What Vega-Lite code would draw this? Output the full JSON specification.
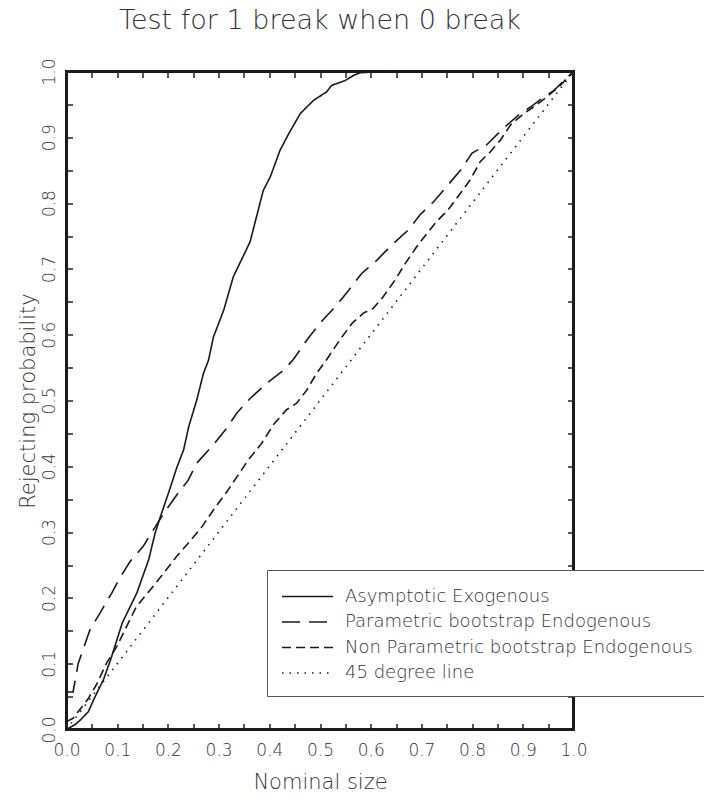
{
  "$schema": "https://vega.github.io/schema/vega-lite/v6.json",
  "autosize": {"type": "none"},
  "width": 507,
  "height": 658,
  "padding": {"left": 66.5, "top": 71.5, "right": 130.5, "bottom": 69.5},
  "background": "white",
  "title": {"text": "Test for 1 break when 0 break", "fontSize": 27, "font": "DejaVu Sans", "fontWeight": 200, "color": "#333", "anchor": "middle", "offset": 23},
  "config": {
    "view": {"stroke": "#1a1a1a", "strokeWidth": 3},
    "axis": {"domain": false, "grid": false, "tickSize": -6, "tickColor": "#222", "tickWidth": 1.5,
      "labelFont": "DejaVu Sans", "labelFontSize": 17, "labelFontWeight": 200, "labelColor": "#333",
      "titleFont": "DejaVu Sans", "titleFontSize": 21, "titleFontWeight": 200, "titleColor": "#333",
      "labelFlush": false, "labelOverlap": false}
  },
  "data": {"values": [
    {"s": "Asymptotic Exogenous", "x": 0, "y": 0},
    {"s": "Asymptotic Exogenous", "x": 0.018, "y": 0.008},
    {"s": "Asymptotic Exogenous", "x": 0.028, "y": 0.015},
    {"s": "Asymptotic Exogenous", "x": 0.043, "y": 0.027},
    {"s": "Asymptotic Exogenous", "x": 0.054, "y": 0.046},
    {"s": "Asymptotic Exogenous", "x": 0.073, "y": 0.076},
    {"s": "Asymptotic Exogenous", "x": 0.087, "y": 0.106},
    {"s": "Asymptotic Exogenous", "x": 0.110, "y": 0.162},
    {"s": "Asymptotic Exogenous", "x": 0.139, "y": 0.208},
    {"s": "Asymptotic Exogenous", "x": 0.162, "y": 0.258},
    {"s": "Asymptotic Exogenous", "x": 0.175, "y": 0.299},
    {"s": "Asymptotic Exogenous", "x": 0.185, "y": 0.323},
    {"s": "Asymptotic Exogenous", "x": 0.201, "y": 0.359},
    {"s": "Asymptotic Exogenous", "x": 0.218, "y": 0.399},
    {"s": "Asymptotic Exogenous", "x": 0.231, "y": 0.425},
    {"s": "Asymptotic Exogenous", "x": 0.241, "y": 0.460},
    {"s": "Asymptotic Exogenous", "x": 0.257, "y": 0.501},
    {"s": "Asymptotic Exogenous", "x": 0.270, "y": 0.541},
    {"s": "Asymptotic Exogenous", "x": 0.280, "y": 0.561},
    {"s": "Asymptotic Exogenous", "x": 0.290, "y": 0.597},
    {"s": "Asymptotic Exogenous", "x": 0.310, "y": 0.637},
    {"s": "Asymptotic Exogenous", "x": 0.329, "y": 0.688},
    {"s": "Asymptotic Exogenous", "x": 0.362, "y": 0.741},
    {"s": "Asymptotic Exogenous", "x": 0.388, "y": 0.819},
    {"s": "Asymptotic Exogenous", "x": 0.402, "y": 0.840},
    {"s": "Asymptotic Exogenous", "x": 0.421, "y": 0.880},
    {"s": "Asymptotic Exogenous", "x": 0.438, "y": 0.905},
    {"s": "Asymptotic Exogenous", "x": 0.461, "y": 0.936},
    {"s": "Asymptotic Exogenous", "x": 0.487, "y": 0.956},
    {"s": "Asymptotic Exogenous", "x": 0.513, "y": 0.969},
    {"s": "Asymptotic Exogenous", "x": 0.523, "y": 0.979},
    {"s": "Asymptotic Exogenous", "x": 0.549, "y": 0.986},
    {"s": "Asymptotic Exogenous", "x": 0.566, "y": 0.994},
    {"s": "Asymptotic Exogenous", "x": 0.579, "y": 0.998},
    {"s": "Asymptotic Exogenous", "x": 0.600, "y": 0.999},
    {"s": "Asymptotic Exogenous", "x": 0.650, "y": 1.0},
    {"s": "Asymptotic Exogenous", "x": 0.700, "y": 1.0},
    {"s": "Asymptotic Exogenous", "x": 0.800, "y": 1.0},
    {"s": "Asymptotic Exogenous", "x": 0.900, "y": 1.0},
    {"s": "Asymptotic Exogenous", "x": 1.0, "y": 1.0},
    {"s": "Parametric bootstrap Endogenous", "x": 0, "y": 0.057},
    {"s": "Parametric bootstrap Endogenous", "x": 0.013, "y": 0.057},
    {"s": "Parametric bootstrap Endogenous", "x": 0.023, "y": 0.100},
    {"s": "Parametric bootstrap Endogenous", "x": 0.046, "y": 0.151},
    {"s": "Parametric bootstrap Endogenous", "x": 0.066, "y": 0.177},
    {"s": "Parametric bootstrap Endogenous", "x": 0.089, "y": 0.207},
    {"s": "Parametric bootstrap Endogenous", "x": 0.105, "y": 0.230},
    {"s": "Parametric bootstrap Endogenous", "x": 0.125, "y": 0.255},
    {"s": "Parametric bootstrap Endogenous", "x": 0.151, "y": 0.278},
    {"s": "Parametric bootstrap Endogenous", "x": 0.171, "y": 0.303},
    {"s": "Parametric bootstrap Endogenous", "x": 0.194, "y": 0.331},
    {"s": "Parametric bootstrap Endogenous", "x": 0.217, "y": 0.356},
    {"s": "Parametric bootstrap Endogenous", "x": 0.240, "y": 0.379},
    {"s": "Parametric bootstrap Endogenous", "x": 0.257, "y": 0.405},
    {"s": "Parametric bootstrap Endogenous", "x": 0.289, "y": 0.432},
    {"s": "Parametric bootstrap Endogenous", "x": 0.316, "y": 0.458},
    {"s": "Parametric bootstrap Endogenous", "x": 0.336, "y": 0.481},
    {"s": "Parametric bootstrap Endogenous", "x": 0.362, "y": 0.503},
    {"s": "Parametric bootstrap Endogenous", "x": 0.395, "y": 0.526},
    {"s": "Parametric bootstrap Endogenous", "x": 0.428, "y": 0.546},
    {"s": "Parametric bootstrap Endogenous", "x": 0.447, "y": 0.562},
    {"s": "Parametric bootstrap Endogenous", "x": 0.477, "y": 0.595},
    {"s": "Parametric bootstrap Endogenous", "x": 0.503, "y": 0.620},
    {"s": "Parametric bootstrap Endogenous", "x": 0.533, "y": 0.645},
    {"s": "Parametric bootstrap Endogenous", "x": 0.559, "y": 0.670},
    {"s": "Parametric bootstrap Endogenous", "x": 0.582, "y": 0.693},
    {"s": "Parametric bootstrap Endogenous", "x": 0.612, "y": 0.713},
    {"s": "Parametric bootstrap Endogenous", "x": 0.641, "y": 0.736},
    {"s": "Parametric bootstrap Endogenous", "x": 0.674, "y": 0.759},
    {"s": "Parametric bootstrap Endogenous", "x": 0.697, "y": 0.782},
    {"s": "Parametric bootstrap Endogenous", "x": 0.724, "y": 0.802},
    {"s": "Parametric bootstrap Endogenous", "x": 0.753, "y": 0.828},
    {"s": "Parametric bootstrap Endogenous", "x": 0.777, "y": 0.850},
    {"s": "Parametric bootstrap Endogenous", "x": 0.800, "y": 0.876},
    {"s": "Parametric bootstrap Endogenous", "x": 0.828, "y": 0.888},
    {"s": "Parametric bootstrap Endogenous", "x": 0.862, "y": 0.914},
    {"s": "Parametric bootstrap Endogenous", "x": 0.892, "y": 0.934},
    {"s": "Parametric bootstrap Endogenous", "x": 0.915, "y": 0.946},
    {"s": "Parametric bootstrap Endogenous", "x": 0.941, "y": 0.961},
    {"s": "Parametric bootstrap Endogenous", "x": 0.961, "y": 0.971},
    {"s": "Parametric bootstrap Endogenous", "x": 1.0, "y": 1.0},
    {"s": "Non Parametric bootstrap Endogenous", "x": 0, "y": 0.012},
    {"s": "Non Parametric bootstrap Endogenous", "x": 0.013, "y": 0.017},
    {"s": "Non Parametric bootstrap Endogenous", "x": 0.026, "y": 0.030},
    {"s": "Non Parametric bootstrap Endogenous", "x": 0.043, "y": 0.047},
    {"s": "Non Parametric bootstrap Endogenous", "x": 0.059, "y": 0.068},
    {"s": "Non Parametric bootstrap Endogenous", "x": 0.079, "y": 0.101},
    {"s": "Non Parametric bootstrap Endogenous", "x": 0.099, "y": 0.126},
    {"s": "Non Parametric bootstrap Endogenous", "x": 0.115, "y": 0.151},
    {"s": "Non Parametric bootstrap Endogenous", "x": 0.138, "y": 0.187},
    {"s": "Non Parametric bootstrap Endogenous", "x": 0.165, "y": 0.212},
    {"s": "Non Parametric bootstrap Endogenous", "x": 0.191, "y": 0.237},
    {"s": "Non Parametric bootstrap Endogenous", "x": 0.217, "y": 0.263},
    {"s": "Non Parametric bootstrap Endogenous", "x": 0.240, "y": 0.283},
    {"s": "Non Parametric bootstrap Endogenous", "x": 0.267, "y": 0.308},
    {"s": "Non Parametric bootstrap Endogenous", "x": 0.290, "y": 0.334},
    {"s": "Non Parametric bootstrap Endogenous", "x": 0.316, "y": 0.361},
    {"s": "Non Parametric bootstrap Endogenous", "x": 0.336, "y": 0.384},
    {"s": "Non Parametric bootstrap Endogenous", "x": 0.359, "y": 0.410},
    {"s": "Non Parametric bootstrap Endogenous", "x": 0.385, "y": 0.435},
    {"s": "Non Parametric bootstrap Endogenous", "x": 0.408, "y": 0.463},
    {"s": "Non Parametric bootstrap Endogenous", "x": 0.434, "y": 0.486},
    {"s": "Non Parametric bootstrap Endogenous", "x": 0.454, "y": 0.496},
    {"s": "Non Parametric bootstrap Endogenous", "x": 0.474, "y": 0.516},
    {"s": "Non Parametric bootstrap Endogenous", "x": 0.493, "y": 0.541},
    {"s": "Non Parametric bootstrap Endogenous", "x": 0.513, "y": 0.562},
    {"s": "Non Parametric bootstrap Endogenous", "x": 0.539, "y": 0.592},
    {"s": "Non Parametric bootstrap Endogenous", "x": 0.563, "y": 0.617},
    {"s": "Non Parametric bootstrap Endogenous", "x": 0.586, "y": 0.633},
    {"s": "Non Parametric bootstrap Endogenous", "x": 0.605, "y": 0.640},
    {"s": "Non Parametric bootstrap Endogenous", "x": 0.625, "y": 0.658},
    {"s": "Non Parametric bootstrap Endogenous", "x": 0.648, "y": 0.683},
    {"s": "Non Parametric bootstrap Endogenous", "x": 0.668, "y": 0.708},
    {"s": "Non Parametric bootstrap Endogenous", "x": 0.691, "y": 0.734},
    {"s": "Non Parametric bootstrap Endogenous", "x": 0.711, "y": 0.754},
    {"s": "Non Parametric bootstrap Endogenous", "x": 0.730, "y": 0.772},
    {"s": "Non Parametric bootstrap Endogenous", "x": 0.753, "y": 0.790},
    {"s": "Non Parametric bootstrap Endogenous", "x": 0.777, "y": 0.815},
    {"s": "Non Parametric bootstrap Endogenous", "x": 0.796, "y": 0.835},
    {"s": "Non Parametric bootstrap Endogenous", "x": 0.816, "y": 0.863},
    {"s": "Non Parametric bootstrap Endogenous", "x": 0.836, "y": 0.878},
    {"s": "Non Parametric bootstrap Endogenous", "x": 0.856, "y": 0.896},
    {"s": "Non Parametric bootstrap Endogenous", "x": 0.876, "y": 0.919},
    {"s": "Non Parametric bootstrap Endogenous", "x": 0.902, "y": 0.936},
    {"s": "Non Parametric bootstrap Endogenous", "x": 0.921, "y": 0.946},
    {"s": "Non Parametric bootstrap Endogenous", "x": 0.947, "y": 0.961},
    {"s": "Non Parametric bootstrap Endogenous", "x": 0.974, "y": 0.979},
    {"s": "Non Parametric bootstrap Endogenous", "x": 1.0, "y": 1.0},
    {"s": "\u00a045 degree line", "x": 0, "y": 0},
    {"s": "\u00a045 degree line", "x": 1, "y": 1}
  ]},
  "layer": [
    {
      "transform": [{"filter": "datum.s != '\u00a045 degree line'"}],
      "mark": {"type": "line", "strokeWidth": 1.6, "color": "#1a1a1a"},
      "encoding": {
        "x": {"field": "x", "type": "quantitative", "scale": {"domain": [0, 1], "nice": false},
          "axis": {"orient": "bottom", "title": "Nominal size", "values": [0,0.05,0.1,0.15,0.2,0.25,0.3,0.35,0.4,0.45,0.5,0.55,0.6,0.65,0.7,0.75,0.8,0.85,0.9,0.95,1],
            "labelExpr": "round(datum.value*100) % 10 == 0 ? format(datum.value, '.1f') : ''", "labelPadding": 19, "titlePadding": 13}},
        "y": {"field": "y", "type": "quantitative", "scale": {"domain": [0, 1], "nice": false},
          "axis": {"orient": "left", "title": "Rejecting probability", "values": [0,0.05,0.1,0.15,0.2,0.25,0.3,0.35,0.4,0.45,0.5,0.55,0.6,0.65,0.7,0.75,0.8,0.85,0.9,0.95,1],
            "labelExpr": "round(datum.value*100) % 10 == 0 ? format(datum.value, '.1f') : ''", "labelAngle": -90, "labelPadding": 14, "titlePadding": 2}},
        "strokeDash": {"field": "s", "type": "nominal",
          "scale": {"domain": ["Asymptotic Exogenous", "Parametric bootstrap Endogenous", "Non Parametric bootstrap Endogenous", "\u00a045 degree line"],
            "range": [[1, 0], [18, 9], [9, 5], [1.5, 6]]},
          "legend": {"orient": "none", "legendX": 200.5, "legendY": 498.5, "title": null,
            "symbolType": "M-1,0H3.435", "symbolSize": 529, "symbolStrokeWidth": 1.6, "symbolStrokeColor": "#1a1a1a",
            "labelFont": "DejaVu Sans", "labelFontSize": 18, "labelFontWeight": 200, "labelColor": "#333", "labelOffset": 39, "labelLimit": 500,
            "rowPadding": 3.5, "padding": 14, "strokeColor": "#555", "fillColor": "white"}}
      }
    },
    {
      "transform": [{"filter": "datum.s == '\u00a045 degree line'"}],
      "mark": {"type": "line", "strokeWidth": 1.6, "color": "#1a1a1a"},
      "encoding": {
        "x": {"field": "x", "type": "quantitative", "scale": {"domain": [0, 1], "nice": false},
          "axis": {"orient": "top", "title": null, "labels": false, "values": [0,0.05,0.1,0.15,0.2,0.25,0.3,0.35,0.4,0.45,0.5,0.55,0.6,0.65,0.7,0.75,0.8,0.85,0.9,0.95,1]}},
        "y": {"field": "y", "type": "quantitative", "scale": {"domain": [0, 1], "nice": false},
          "axis": {"orient": "right", "title": null, "labels": false, "values": [0,0.05,0.1,0.15,0.2,0.25,0.3,0.35,0.4,0.45,0.5,0.55,0.6,0.65,0.7,0.75,0.8,0.85,0.9,0.95,1]}},
        "strokeDash": {"field": "s", "type": "nominal"}
      }
    }
  ],
  "resolve": {"axis": {"x": "independent", "y": "independent"}}
}
